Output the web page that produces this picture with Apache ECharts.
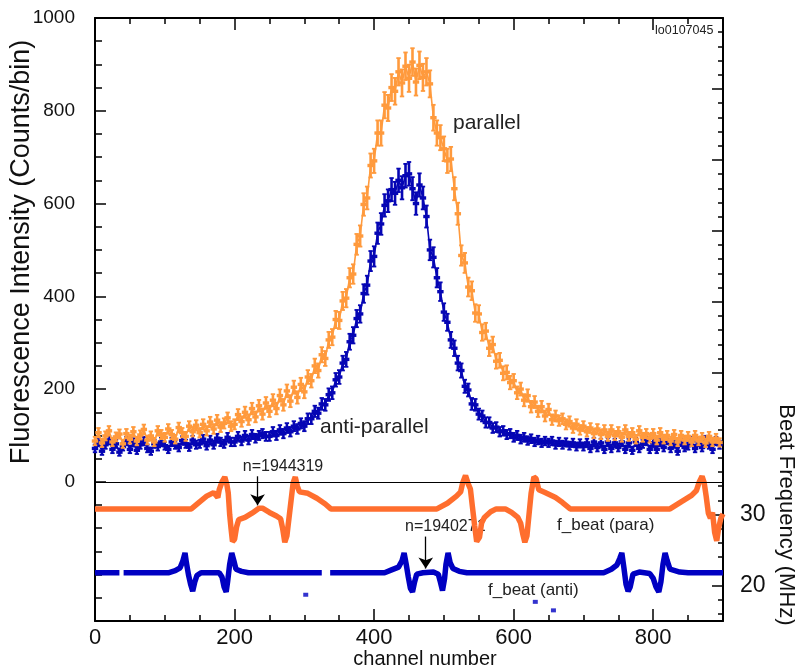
<!DOCTYPE html>
<html><head><meta charset="utf-8">
<script src="https://cdn.jsdelivr.net/npm/echarts@6/dist/echarts.min.js"></script>
<style>html,body{margin:0;padding:0;background:#fff}#c{width:795px;height:671px}</style>
</head><body><div id="c"></div>
<script>
// ---------- data ----------
const channelStep = 5; // channel spacing of the fluorescence samples below (0,5,10,...)
const parallelCounts = [
  88,106,84,99,110,86,97,103,82,104,
  92,108,88,101,113,90,99,86,110,102,
  96,114,102,92,117,106,98,120,108,122,
  106,124,110,129,114,133,118,126,138,120,
  124,145,130,150,134,158,140,164,146,170,
  152,176,158,186,166,196,174,204,182,210,
  194,226,218,250,240,274,266,306,312,350,
  348,390,396,440,448,512,530,598,612,682,
  692,752,752,812,806,850,842,884,860,896,
  870,905,862,898,872,884,858,785,752,742,
  718,692,696,632,578,488,472,420,412,364,
  362,322,325,288,296,260,262,234,236,214,
  218,192,200,176,186,162,172,152,162,142,
  156,134,142,132,136,124,130,116,124,112,
  120,108,116,104,114,102,112,98,112,100,
  108,96,112,98,106,92,110,96,104,94,
  104,90,106,92,100,88,102,86,100,90,
  98,86,100,88,96,84,98,86,94,85
];
const antiParallelCounts = [
  72,86,66,80,90,70,82,64,76,88,
  70,85,68,80,88,72,66,82,76,86,
  78,70,86,80,74,89,82,75,90,80,
  82,92,78,90,80,94,86,82,96,86,
  86,98,88,100,90,102,94,100,104,98,
  98,108,100,112,104,116,108,120,114,126,
  120,136,136,152,148,168,166,188,192,220,
  226,256,264,302,316,352,362,406,424,476,
  486,536,556,596,606,630,622,650,634,660,
  664,632,600,640,612,572,500,484,440,410,
  366,344,306,288,256,240,206,198,168,166,
  146,142,128,128,116,118,108,110,102,104,
  96,100,92,96,89,93,86,90,84,88,
  84,88,80,86,80,85,78,84,76,83,
  76,84,72,86,74,84,70,86,72,84,
  74,86,70,84,68,86,72,82,88,70,
  84,70,86,74,90,72,82,66,86,74,
  78,88,72,86,74,90,80,70,88,80
];
// beat frequency traces [channel, MHz]
const beatPara = [[0,30.8],[138,30.8],[150,31.8],[160,32.6],[170,33.1],[176,32.4],[178,33.5],[182,34.6],[186,35.3],[189,34.2],[191,33],[193,30],[195,28],[197,26.2],[200,26.5],[203,28.3],[206,29.3],[215,29.6],[225,30.2],[235,30.9],[240,30.9],[250,30.3],[260,29.8],[266,29.4],[269,28],[272,26.1],[275,27],[278,29.5],[281,32],[284,34.5],[287,35.3],[290,34],[293,33.2],[305,33],[318,32.3],[330,31.5],[338,30.8],[490,30.8],[505,31.6],[518,32.6],[524,33.2],[527,34.5],[531,35.5],[535,34.3],[538,33.6],[541,31],[544,28.5],[547,26.2],[551,26.8],[554,28.8],[558,29.6],[567,30.4],[575,30.8],[588,30.8],[597,30.3],[606,29.6],[610,28.8],[613,27.3],[616,26.1],[619,27],[622,30],[625,33],[629,35.3],[632,35.1],[636,33.5],[645,33.1],[660,32.4],[670,31.7],[681,30.8],[824,30.8],[840,31.8],[855,32.7],[862,33.4],[866,34.6],[870,35.4],[873,34.5],[876,32.5],[879,30.2],[882,29.5],[885,30.3],[888,27.5],[891,26.3],[894,28.2],[897,29.5],[900,30.1]];
const beatAnti = [[0,21.8],[35,21.8],[37,null],[41,21.8],[105,21.8],[115,22.1],[122,22.5],[126,23.5],[129,24.6],[131,23.2],[134,21.5],[137,20.2],[140,19.2],[143,20.5],[146,21.4],[152,21.8],[178,21.8],[182,21.2],[185,19.8],[188,19.1],[190,20.5],[193,23],[196,24.6],[199,23.5],[202,22.3],[210,22],[220,21.8],[325,21.8],[330,null],[337,21.8],[415,21.8],[425,22.2],[435,22.6],[440,23.5],[443,24.6],[446,23],[449,21.2],[452,19.6],[455,19.1],[458,20.5],[461,21.6],[470,21.8],[485,21.9],[492,21.6],[495,20.5],[498,19.3],[501,21],[503,23],[506,24.6],[509,23.2],[513,22.4],[522,22],[533,21.8],[729,21.8],[740,22.3],[748,22.9],[752,23.8],[755,24.6],[758,22.5],[761,20.2],[764,19.2],[767,19.8],[771,21.6],[780,21.9],[795,21.7],[800,21],[804,19.8],[808,19.1],[811,20.5],[814,23],[817,24.6],[820,23.5],[824,22.3],[838,21.9],[850,21.8],[900,21.8]];
const beatAntiStray = [[302,18.7],[631,17.7],[657,16.5]];
const arrowPara = [[233,35.4],[233,31.3]];
const arrowAnti = [[474,26.9],[474,22.4]];
// ticks / labels
const xTickLabels = [0,200,400,600,800];
const leftTickLabels = [0,200,400,600,800,1000];
const rightTickLabels = [20,30];
const rightMajorTicks = [20,30,40,50,60,70,80,90];
const rightMinorTicks = [16,18,20,22,24,26,28,30,32,34,36,38,40,42,44,46,48,50,52,54,56,58,60,62,64,66,68,70,72,74,76,78,80,82,84,86,88,90,92,94,96,98];

// ---------- chart ----------
const FONT = '"Liberation Sans", Arial, Helvetica, sans-serif';
const C_PAR = '#FF9A3D', C_ANTI = '#0606B4', C_BPAR = '#FF6E2E', C_BANTI = '#0000C2';
const chart = echarts.init(document.getElementById('c'), null, {renderer:'canvas'});

function toPoints(arr){ return arr.map((v,i)=>[i*channelStep, v]); }

// each bin: vertical error bar (Poisson, sqrt(N)) with caps and a horizontal bin-width bar
function crossRender(params, api){
  const x = api.value(0), y = api.value(1);
  const c = api.coord([x,y]);
  const e = Math.sqrt(Math.max(y,0));
  const hi = api.coord([x, y+e]), lo = api.coord([x, y-e]);
  const col = api.visual('color');
  const hw = 3.2, cap = 2.2, bw = 2.6;
  return {type:'group', children:[
    {type:'rect', shape:{x:c[0]-bw/2, y:hi[1], width:bw, height:lo[1]-hi[1]}, style:{fill:col}},
    {type:'rect', shape:{x:c[0]-hw, y:c[1]-1.7, width:2*hw, height:3.4}, style:{fill:col}},
    {type:'rect', shape:{x:c[0]-cap, y:hi[1]-0.8, width:2*cap, height:1.8}, style:{fill:col}},
    {type:'rect', shape:{x:c[0]-cap, y:lo[1]-1, width:2*cap, height:1.8}, style:{fill:col}}
  ]};
}

const axisLineStyle = {color:'#000', width:2};
const tickStyle = {color:'#000', width:1.5};
const noSplit = {show:false};
const plainFmt = v => String(v);

const option = {
  animation:false,
  backgroundColor:'#fff',
  grid:{left:95, top:18, right:72, bottom:50, containLabel:false},
  xAxis:[
    {type:'value', min:0, max:900, interval:50, position:'bottom',
     axisLine:{show:true, onZero:false, lineStyle:axisLineStyle},
     axisTick:{show:true, inside:true, length:6, lineStyle:tickStyle},
     axisLabel:{customValues:xTickLabels, formatter:plainFmt, fontSize:22, color:'#111', margin:6, fontFamily:FONT},
     splitLine:noSplit},
    {type:'value', min:0, max:900, position:'bottom',
     axisLine:{show:false, onZero:false}, axisTick:{show:true, inside:true, length:12, customValues:xTickLabels, lineStyle:tickStyle},
     axisLabel:{show:false}, splitLine:noSplit},
    {type:'value', min:0, max:900, interval:50, position:'top',
     axisLine:{show:true, onZero:false, lineStyle:axisLineStyle},
     axisTick:{show:true, inside:true, length:6, lineStyle:tickStyle},
     axisLabel:{show:false}, splitLine:noSplit},
    {type:'value', min:0, max:900, position:'top',
     axisLine:{show:false, onZero:false}, axisTick:{show:true, inside:true, length:12, customValues:xTickLabels, lineStyle:tickStyle},
     axisLabel:{show:false}, splitLine:noSplit}
  ],
  yAxis:[
    {type:'value', min:-300, max:1000, interval:50, position:'left',
     axisLine:{show:true, onZero:false, lineStyle:axisLineStyle},
     axisTick:{show:true, inside:true, length:7, lineStyle:tickStyle},
     axisLabel:{customValues:leftTickLabels, formatter:plainFmt, fontSize:19, color:'#111', margin:20, fontFamily:FONT},
     splitLine:noSplit},
    {type:'value', min:-300, max:1000, position:'left',
     axisLine:{show:false, onZero:false}, axisTick:{show:true, inside:true, length:11, customValues:leftTickLabels, lineStyle:tickStyle},
     axisLabel:{show:false}, splitLine:noSplit},
    {type:'value', min:15, max:100, position:'right',
     axisLine:{show:true, onZero:false, lineStyle:axisLineStyle},
     axisTick:{show:true, inside:true, length:5, customValues:rightMinorTicks, lineStyle:tickStyle},
     axisLabel:{customValues:rightTickLabels, formatter:plainFmt, fontSize:23, color:'#111', margin:17, fontFamily:FONT},
     splitLine:noSplit},
    {type:'value', min:15, max:100, position:'right',
     axisLine:{show:false, onZero:false}, axisTick:{show:true, inside:true, length:11, customValues:rightMajorTicks, lineStyle:tickStyle},
     axisLabel:{show:false}, splitLine:noSplit}
  ],
  series:[
    {name:'anti-parallel line', type:'line', xAxisIndex:0, yAxisIndex:0, data:toPoints(antiParallelCounts),
     showSymbol:false, symbol:'none', lineStyle:{color:C_ANTI, width:1.6}, z:2,
     markLine:{silent:true, symbol:'none', label:{show:false}, lineStyle:{color:'#000', width:1, type:'solid'}, data:[{yAxis:0}]}},
    {name:'anti-parallel', type:'custom', xAxisIndex:0, yAxisIndex:0, data:toPoints(antiParallelCounts),
     renderItem:crossRender, itemStyle:{color:C_ANTI}, encode:{x:0, y:1}, z:2},
    {name:'parallel line', type:'line', xAxisIndex:0, yAxisIndex:0, data:toPoints(parallelCounts),
     showSymbol:false, symbol:'none', lineStyle:{color:C_PAR, width:1.6}, z:3},
    {name:'parallel', type:'custom', xAxisIndex:0, yAxisIndex:0, data:toPoints(parallelCounts),
     renderItem:crossRender, itemStyle:{color:C_PAR}, encode:{x:0, y:1}, z:3},
    {name:'f_beat (para)', type:'line', xAxisIndex:0, yAxisIndex:2, data:beatPara,
     showSymbol:false, symbol:'none', connectNulls:false, lineStyle:{color:C_BPAR, width:5.5, join:'bevel'}, z:4},
    {name:'f_beat (anti)', type:'line', xAxisIndex:0, yAxisIndex:2, data:beatAnti,
     showSymbol:false, symbol:'none', connectNulls:false, lineStyle:{color:C_BANTI, width:5.5, join:'bevel'}, z:4},
    {name:'f_beat (anti) stray', type:'scatter', xAxisIndex:0, yAxisIndex:2, data:beatAntiStray,
     symbol:'rect', symbolSize:[5,4], itemStyle:{color:C_BANTI}, z:4},
    {name:'arrows', type:'line', xAxisIndex:0, yAxisIndex:2, data:[], z:6,
     markLine:{silent:true, symbol:['none','arrow'], symbolSize:11, label:{show:false},
       lineStyle:{color:'#000', width:1.3, type:'solid'}, itemStyle:{color:'#000'},
       data:[[{coord:arrowPara[0]},{coord:arrowPara[1]}],[{coord:arrowAnti[0]},{coord:arrowAnti[1]}]]}}
  ],
  graphic:[
    {type:'text', x:22, y:252, rotation:Math.PI/2, style:{text:'Fluorescence Intensity (Counts/bin)', font:'27px '+FONT, fill:'#111', align:'center', verticalAlign:'middle'}},
    {type:'text', x:786, y:515, rotation:-Math.PI/2, style:{text:'Beat Frequency (MHz)', font:'22px '+FONT, fill:'#111', align:'center', verticalAlign:'middle'}},
    {type:'text', x:425, y:659, style:{text:'channel number', font:'20px '+FONT, fill:'#111', align:'center', verticalAlign:'middle'}},
    {type:'text', x:453, y:123, style:{text:'parallel', font:'21px '+FONT, fill:'#222', align:'left', verticalAlign:'middle'}},
    {type:'text', x:320, y:427, style:{text:'anti-parallel', font:'21px '+FONT, fill:'#222', align:'left', verticalAlign:'middle'}},
    {type:'text', x:283, y:467, style:{text:'n=1944319', font:'16px '+FONT, fill:'#222', align:'center', verticalAlign:'middle'}},
    {type:'text', x:405, y:527, style:{text:'n=1940271', font:'16px '+FONT, fill:'#222', align:'left', verticalAlign:'middle'}},
    {type:'text', x:557, y:525, style:{text:'f_beat (para)', font:'17px '+FONT, fill:'#222', align:'left', verticalAlign:'middle'}},
    {type:'text', x:488, y:590, style:{text:'f_beat (anti)', font:'17px '+FONT, fill:'#222', align:'left', verticalAlign:'middle'}},
    {type:'text', x:655, y:31, style:{text:'lo0107045', font:'12.5px '+FONT, fill:'#222', align:'left', verticalAlign:'middle'}}
  ]
};
chart.setOption(option);
</script></body></html>
